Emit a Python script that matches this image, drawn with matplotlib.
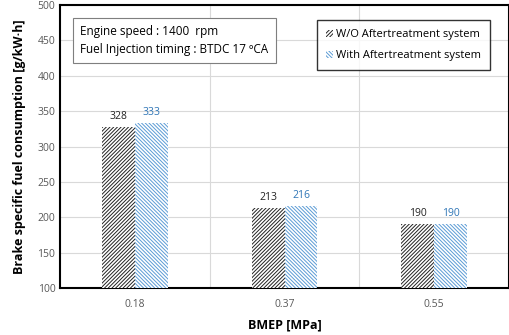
import matplotlib
matplotlib.use("Agg")
import matplotlib.pyplot as plt
import numpy as np

categories = ["0.18", "0.37", "0.55"]
wo_values = [328, 213, 190]
with_values = [333, 216, 190]
series_names = ["W/O Aftertreatment system", "With Aftertreatment system"]

plt.rcParams['font.family'] = ['Open Sans', 'DejaVu Sans']
plt.rcParams['hatch.linewidth'] = 0.7

fig = plt.figure(figsize=(5.1, 3.35), dpi=100)
ax = fig.add_axes([0.118, 0.140, 0.880, 0.845])

x = np.arange(len(categories))
w = 0.22
blue = '#5b9bd5'
b1 = ax.bar(x - w/2, wo_values, w, bottom=0, color='white', edgecolor='#222222',
            hatch='/////////', linewidth=0, zorder=3)
b2 = ax.bar(x + w/2, with_values, w, bottom=0, color='white', edgecolor=blue,
            hatch='\\\\\\\\\\\\\\\\\\', linewidth=0, zorder=3)

for xi, v in zip(x, wo_values):
    ax.text(xi - w/2, v + 7, str(v), ha='center', va='bottom', fontsize=7.5, color='#222222')
for xi, v in zip(x, with_values):
    ax.text(xi + w/2, v + 7, str(v), ha='center', va='bottom', fontsize=7.5, color='#2e75b6')

ax.set_ylim(100, 500)
ax.set_xlim(-0.5, 2.5)
ax.set_yticks(np.arange(100, 501, 50))
ax.set_xticks(x)
ax.set_xticklabels(categories)
ax.tick_params(axis='both', length=0, labelsize=7.5, labelcolor='#595959')
ax.tick_params(axis='x', pad=8)
ax.grid(axis='y', color='#d9d9d9', linewidth=0.8, zorder=0)
for b in [0.5, 1.5]:
    ax.axvline(b, color='#d9d9d9', linewidth=0.8, zorder=0)
for s in ax.spines.values():
    s.set_linewidth(1.5)
    s.set_color('black')

ax.set_xlabel('BMEP [MPa]', fontsize=9, fontweight='bold', labelpad=6)
ax.set_ylabel('Brake specific fuel consumption [g/kW·h]', fontsize=9, fontweight='bold', labelpad=8)

ax.text(0.045, 0.875, 'Engine speed : 1400  rpm\nFuel Injection timing : BTDC 17 ºCA',
        transform=ax.transAxes, fontsize=8.5, va='center', ha='left', linespacing=1.5,
        bbox=dict(boxstyle='square,pad=0.6', facecolor='white', edgecolor='#7f7f7f', linewidth=0.8),
        zorder=5)

leg = ax.legend([b1, b2], series_names, loc='upper right', bbox_to_anchor=(0.97, 0.965),
                fontsize=8, frameon=True, fancybox=False, edgecolor='black',
                handlelength=0.6, handleheight=0.6, handletextpad=0.3, borderpad=0.8,
                labelspacing=0.9)
leg.get_frame().set_linewidth(1.0)
leg.set_zorder(6)

fig.savefig('out.png', dpi=100)
